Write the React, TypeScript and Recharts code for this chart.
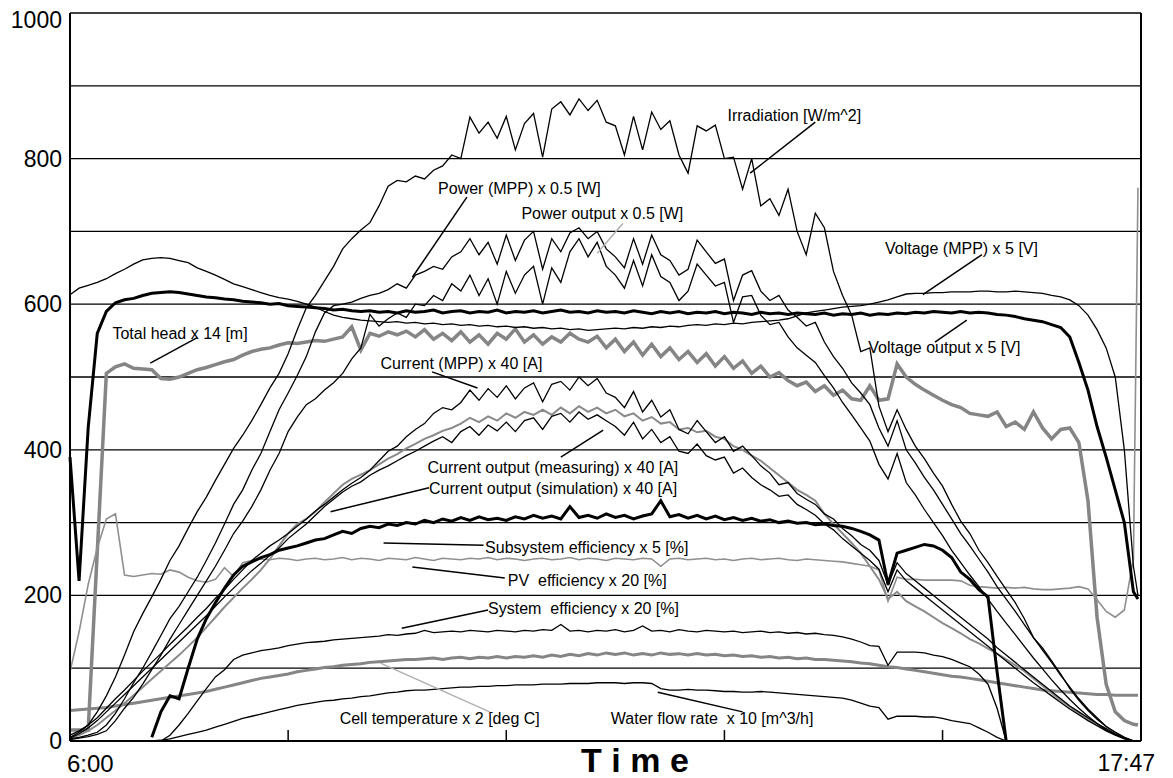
import {
  LineChart,
  Line,
  XAxis,
  YAxis,
  CartesianGrid,
  ReferenceLine,
  ReferenceDot,
} from "recharts";

const N = null;

// minutes after 6:00, one sample every 6 min (last one is the 17:45 spike)
const minutes = [
  0, 6, 12, 18, 24, 30, 36, 42, 48, 54,
  60, 66, 72, 78, 84, 90, 96, 102, 108, 114,
  120, 126, 132, 138, 144, 150, 156, 162, 168, 174,
  180, 186, 192, 198, 204, 210, 216, 222, 228, 234,
  240, 246, 252, 258, 264, 270, 276, 282, 288, 294,
  300, 306, 312, 318, 324, 330, 336, 342, 348, 354,
  360, 366, 372, 378, 384, 390, 396, 402, 408, 414,
  420, 426, 432, 438, 444, 450, 456, 462, 468, 474,
  480, 486, 492, 498, 504, 510, 516, 522, 528, 534,
  540, 546, 552, 558, 564, 570, 576, 582, 588, 594,
  600, 606, 612, 618, 624, 630, 636, 642, 648, 654,
  660, 666, 672, 678, 684, 690, 696, 702, 705,
];

const irradiation = [
  8, 14, 22, 40, 62, 88, 118, 150, 175, 198,
  222, 248, 268, 292, 315, 335, 358, 380, 402, 420,
  440, 462, 485, 505, 532, 565, 595, 612, 632, 652,
  676, 690, 702, 712, 735, 762, 770, 768, 776, 772,
  784, 790, 805, 800, 857, 835, 850, 828, 858, 812,
  848, 862, 802, 868, 878, 860, 882, 866, 880, 850,
  845, 805, 858, 812, 864, 840, 852, 805, 780, 845,
  838, 846, 800, 802, 758, 800, 735, 745, 722, 758,
  700, 668, 725, 705, 645, 612, 585, 535, 540, 460,
  425, 455, 428, 405, 388, 368, 350, 325, 302, 285,
  262, 245, 226, 208, 190, 168, 142, 128, 110, 92,
  72, 56, 42, 30, 20, 12, 5, 0, N,
];

const powerMpp = [
  3, 5, 8, 12, 22, 38, 58, 80, 100, 122,
  145, 168, 185, 205, 225, 248, 272, 298, 325, 345,
  372, 395, 425, 455, 478, 502, 528, 562, 588, 598,
  600, 603, 608, 612, 615, 620, 628, 622, 640, 645,
  652, 648, 665, 672, 690, 668, 685, 655, 695, 660,
  688, 700, 648, 690, 672, 698, 705, 690, 700, 676,
  665, 650, 690, 655, 695, 668, 660, 640, 648, 688,
  672, 656, 662, 605, 640, 646, 618, 605, 612, 592,
  582, 570, 575, 548, 528, 512, 492, 478, 462, 430,
  405, 440, 400, 382, 362, 345, 325, 305, 285, 268,
  250, 232, 212, 195, 178, 160, 142, 125, 108, 90,
  74, 58, 44, 32, 20, 12, 5, 0, N,
];

const powerOut = [
  2, 4, 6, 9, 14, 28, 45, 60, 78, 98,
  118, 140, 160, 180, 200, 220, 240, 262, 285, 302,
  322, 345, 372, 395, 425, 445, 462, 470, 482, 492,
  505, 525, 540, 586, 570, 580, 588, 582, 600, 598,
  612, 605, 628, 618, 640, 612, 635, 600, 645, 615,
  640, 652, 600, 650, 630, 672, 690, 665, 685, 652,
  640, 622, 660, 625, 668, 638, 630, 605, 618, 655,
  640, 625, 630, 575, 610, 612, 585, 572, 575, 555,
  540, 530, 520, 502, 485, 465, 448, 430, 412, 380,
  360, 395, 355, 338, 318, 300, 282, 262, 245, 228,
  212, 195, 178, 162, 146, 130, 114, 99, 84, 70,
  57, 45, 34, 24, 15, 9, 4, 0, N,
];

const currentMpp = [
  5, 12, 22, 32, 45, 58, 70, 83, 96, 108,
  120, 133, 145, 157, 170, 182, 196, 208, 222, 235,
  248, 258, 268, 276, 285, 295, 305, 316, 325, 335,
  345, 354, 362, 372, 385, 398, 405, 418, 428, 436,
  450, 458, 455, 465, 482, 468, 484, 472, 488, 470,
  485, 492, 466, 490, 494, 482, 500, 488, 498, 478,
  472, 458, 480, 452, 468, 445, 455, 428, 422, 440,
  425, 410, 418, 398, 405, 392, 378, 368, 352, 355,
  340, 332, 325, 312, 305, 292, 282, 270, 262, 248,
  215, 245, 230, 220, 210, 200, 190, 180, 170, 160,
  150, 140, 128, 118, 108, 98, 88, 78, 68, 58,
  48, 40, 32, 24, 17, 10, 4, 0, N,
];

const currentMeas = [
  4, 10, 18, 28, 40, 52, 64, 76, 88, 100,
  112, 124, 136, 148, 160, 172, 185, 198, 210, 222,
  234, 244, 255, 265, 278, 288, 298, 310, 322, 332,
  342, 350, 356, 365, 372, 378, 385, 392, 398, 405,
  412, 418, 410, 425, 432, 420, 434, 426, 438, 425,
  440, 444, 428, 446, 450, 438, 452, 442, 448, 440,
  432, 420, 438, 415, 428, 410, 418, 398, 395, 408,
  392, 386, 390, 368, 375, 362, 352, 345, 336, 338,
  325, 318, 310, 298, 290, 278, 268, 258, 248, 236,
  205, 235, 220, 210, 200, 190, 180, 170, 160, 150,
  140, 130, 120, 110, 100, 90, 80, 71, 62, 53,
  44, 36, 28, 21, 14, 8, 3, 0, N,
];

const currentSim = [
  3, 8, 14, 22, 32, 42, 52, 63, 74, 85,
  96, 107, 118, 130, 142, 156, 170, 184, 197, 210,
  222, 235, 250, 268, 285, 298, 305, 315, 328, 340,
  352, 360, 366, 372, 380, 388, 394, 402, 408, 415,
  420, 426, 430, 436, 444, 438, 446, 440, 450, 444,
  452, 448, 455, 448, 458, 450, 460, 452, 458, 450,
  455, 446, 450, 440, 445, 436, 438, 428, 430, 424,
  426, 418, 415, 405, 400, 392, 385, 375, 365, 355,
  345, 338, 330, 312, 298, 285, 272, 258, 240, 222,
  195, 205, 192, 185, 178, 170, 162, 155, 148, 140,
  134, 127, 120, 112, 104, 96, 86, 76, 66, 56,
  47, 38, 30, 22, 15, 9, 4, 0, N,
];

const subsystemEff = [
  N, N, N, N, N, N, N, N, N, 5,
  40, 62, 58, 100, 140, 168, 190, 210, 228, 240,
  246, 252, 256, 262, 265, 268, 272, 276, 278, 283,
  288, 285, 292, 295, 293, 298, 296, 300, 298, 303,
  300, 305, 302, 307, 303, 308, 304, 306, 303, 308,
  305, 310, 306, 309, 305, 322, 307, 310, 306, 312,
  307, 310, 305, 309, 312, 330, 308, 311, 306, 310,
  305, 309, 304, 307, 303, 306, 302, 304, 300, 302,
  299, 300, 297, 298, 296, 295, 292, 288, 283, 276,
  215, 258, 262, 266, 270, 268, 262, 252, 232, 222,
  208, 198, 95, 0, N, N, N, N, N, N,
  N, N, N, N, N, N, N, N, N,
];

const pvEff = [
  95, 150, 215, 265, 305, 312, 228, 226, 228, 230,
  229, 235, 232, 225, 220, 218, 222, 238, 226, 245,
  248, 250, 249, 251, 250, 248, 250, 251, 249, 250,
  252, 249, 251, 250, 248, 251, 250, 249, 252, 250,
  248, 251, 250, 249, 251, 250, 252, 249, 251, 250,
  248, 250, 251, 249, 250, 252, 249, 251, 250, 248,
  251, 250, 249, 251, 250, 240, 250, 251, 249, 250,
  251, 249, 250, 248, 250, 251, 249, 250, 251, 249,
  248, 250, 249, 248, 247, 246, 244, 242, 240, 235,
  192, 225, 222, 222, 221, 221, 221, 221, 220, 214,
  212, 211, 210, 211, 210, 211, 209, 208, 208, 209,
  210, 212, 209, 194, 178, 170, 180, 250, 760,
];

const systemEff = [
  N, N, N, N, N, N, N, N, N, N,
  0, 8, 22, 38, 55, 72, 88, 98, 112, 118,
  121, 124, 126, 128, 131, 133, 135, 136, 137, 139,
  140, 141, 142, 143, 144, 146, 145, 147, 148, 152,
  149, 150, 151, 150, 152, 151, 150, 152, 151, 150,
  152, 151, 153, 152, 160, 151, 152, 150, 152, 151,
  153, 150, 152, 158, 151, 152, 150, 153, 151, 150,
  152, 151, 150, 151, 149, 150, 151, 149, 150, 148,
  149, 147, 148, 146, 145, 143, 140, 136, 131, 130,
  104, 122, 122, 122, 121, 118, 116, 112, 107, 102,
  92, 78, 45, 0, N, N, N, N, N, N,
  N, N, N, N, N, N, N, N, N,
];

const waterFlow = [
  N, N, N, N, N, N, N, N, N, 0,
  1, 3, 6, 9, 12, 15, 19, 23, 27, 31,
  34, 37, 40, 43, 46, 49, 51, 53, 55, 56,
  58, 59, 61, 62, 64, 66, 67, 69, 70, 70,
  71, 72, 73, 74, 74, 75, 75, 76, 76, 77,
  77, 77, 78, 78, 78, 79, 79, 79, 80, 80,
  80, 79, 80, 80, 79, 72, 70, 70, 71, 70,
  70, 69, 68, 68, 67, 67, 68, 67, 66, 65,
  64, 63, 62, 61, 60, 59, 56, 52, 48, 46,
  30, 34, 34, 34, 33, 33, 31, 28, 26, 24,
  18, 12, 5, 0, N, N, N, N, N, N,
  N, N, N, N, N, N, N, N, N,
];

const cellTemp = [
  42, 43, 44, 45, 46, 48, 50, 52, 54, 56,
  58, 60, 62, 64, 66, 68, 71, 74, 77, 80,
  83, 86, 88, 90, 92, 95, 97, 99, 101, 102,
  104, 105, 106, 108, 109, 110, 111, 112, 112, 113,
  114, 112, 114, 115, 113, 115, 114, 116, 114, 116,
  115, 117, 115, 118, 116, 119, 117, 120, 118, 121,
  119, 121, 118, 120, 118, 121, 119, 120, 118, 120,
  118, 119, 117, 118, 116, 117, 115, 116, 114, 115,
  113, 114, 112, 112, 111, 110, 109, 107, 106, 104,
  102, 101, 99, 97, 95, 93, 91, 89, 88, 86,
  84, 82, 80, 78, 76, 74, 72, 70, 69, 68,
  67, 66, 65, 64, 64, 63, 63, 63, 63,
];

const totalHead = [
  15, 15, 15, 260, 505, 514, 518, 512, 511, 510,
  498, 497, 500, 505, 510, 513, 517, 521, 524, 530,
  535, 538, 540, 544, 547, 546, 548, 550, 549, 552,
  555, 569, 537, 560, 556, 562, 558, 563, 555, 565,
  552, 560, 550, 562, 548, 558, 545, 560, 552, 566,
  548, 558, 545, 555, 548, 560, 552, 548, 556, 540,
  552, 535, 548, 530, 545, 528, 540, 524, 535, 520,
  532, 515, 528, 512, 522, 505, 515, 500, 506, 495,
  488, 493, 480, 488, 475, 482, 470, 468, 488, 468,
  470, 518, 500, 490, 482, 475, 468, 462, 458, 450,
  448, 446, 452, 432, 438, 428, 452, 430, 415, 428,
  430, 410, 330, 170, 78, 40, 28, 23, 22,
];

const voltageOut = [
  390, 220, 430, 560, 590, 602, 606, 608, 612, 615,
  616, 617, 616, 614, 612, 610, 609, 607, 606, 604,
  603, 602, 600, 601, 598, 597, 596, 595, 594, 592,
  593, 591, 590, 591, 589, 590, 588, 591, 589, 590,
  592, 588, 590, 591, 588, 590, 589, 592, 588, 590,
  589, 591, 588, 590, 592, 589, 590, 588, 591, 589,
  590, 588, 591, 589, 587, 590, 588, 590, 587, 589,
  588, 590, 587, 589, 588, 586, 589, 587, 588, 586,
  588, 587, 586, 588, 585, 587, 586, 588, 585, 587,
  586, 588, 587, 589, 588, 590, 589, 588, 590, 588,
  589, 588, 586, 585, 583, 580, 578, 576, 572, 568,
  555, 520, 482, 432, 390, 345, 300, 205, 195,
];

const voltageMpp = [
  613, 622, 626, 630, 635, 642, 648, 655, 661, 663,
  664, 663, 660, 657, 650, 645, 640, 634, 628, 624,
  620, 616, 612, 609, 607, 604, 600, 596, 590, 585,
  582, 580, 578, 577, 576, 575, 576, 574, 575, 573,
  574, 572, 573, 571, 572, 570, 571, 569, 570, 568,
  569, 567, 568, 566, 567, 565, 566, 564, 565, 566,
  567, 566, 568, 567, 569, 568, 570, 569, 571, 572,
  571, 573, 572, 574, 573, 575, 576, 577, 578, 580,
  584, 588, 590, 592, 594, 596, 597, 598, 600, 603,
  606, 610, 614, 615, 615, 616, 616, 617, 617, 617,
  618, 618, 617, 617, 618, 617, 616, 615, 612, 610,
  606, 598, 585, 565, 540, 500, 400, 240, 200,
];

const yTicks = [0, 100, 200, 300, 400, 500, 600, 700, 800, 900, 1000];
const xEnds = [0, 707];
const xEndLabels = ["6:00", "17:47"];
const xMarks = [144, 288, 432, 576];

const rows = minutes.map((t, i) => ({
  t,
  irr: irradiation[i],
  pMpp: powerMpp[i],
  pOut: powerOut[i],
  iMpp: currentMpp[i],
  iMeas: currentMeas[i],
  iSim: currentSim[i],
  subsys: subsystemEff[i],
  pv: pvEff[i],
  sys: systemEff[i],
  flow: waterFlow[i],
  cell: cellTemp[i],
  head: totalHead[i],
  vOut: voltageOut[i],
  vMpp: voltageMpp[i],
}));

// drawing order: grey first, thick black last
const series = [
  { key: "head", color: "#858585", width: 3.5 },
  { key: "cell", color: "#858585", width: 3 },
  { key: "pv", color: "#8f8f8f", width: 1.6 },
  { key: "iSim", color: "#8a8a8a", width: 2 },
  { key: "irr", color: "#000", width: 1.3 },
  { key: "pMpp", color: "#000", width: 1.3 },
  { key: "pOut", color: "#000", width: 1.3 },
  { key: "iMpp", color: "#000", width: 1.3 },
  { key: "iMeas", color: "#000", width: 1.3 },
  { key: "sys", color: "#000", width: 1.3 },
  { key: "flow", color: "#000", width: 1.3 },
  { key: "vMpp", color: "#000", width: 1.3 },
  { key: "vOut", color: "#000", width: 3 },
  { key: "subsys", color: "#000", width: 3 },
];

// label text (left end of baseline) and leader line, in chart units
const notes = [
  { text: "Irradiation [W/m^2]", at: [434, 852], from: [492, 850], to: [449, 780], c: "#000" },
  { text: "Power (MPP) x 0.5 [W]", at: [243, 751], from: [262, 747], to: [226, 637], c: "#000" },
  { text: "Power output x 0.5 [W]", at: [298, 717], from: [365, 711], to: [348, 670], c: "#b0b0b0" },
  { text: "Voltage (MPP) x 5 [V]", at: [538, 669], from: [602, 668], to: [563, 613], c: "#000" },
  { text: "Voltage output x 5 [V]", at: [527, 533], from: [571, 548], to: [592, 578], c: "#000" },
  { text: "Total head x 14 [m]", at: [28, 552], from: [84, 554], to: [53, 519], c: "#000" },
  { text: "Current (MPP) x 40 [A]", at: [205, 511], from: [239, 507], to: [269, 485], c: "#000" },
  { text: "Current output (measuring) x 40 [A]", at: [236, 368], from: [324, 390], to: [352, 427], c: "#000" },
  { text: "Current output (simulation) x 40 [A]", at: [237, 339], from: [237, 348], to: [172, 315], c: "#000" },
  { text: "Subsystem efficiency x 5 [%]", at: [274, 258], from: [273, 269], to: [207, 272], c: "#000" },
  { text: "PV  efficiency x 20 [%]", at: [289, 213], from: [287, 224], to: [226, 239], c: "#000" },
  { text: "System  efficiency x 20 [%]", at: [276, 175], from: [276, 180], to: [219, 155], c: "#000" },
  { text: "Cell temperature x 2 [deg C]", at: [178, 23], from: [205, 107], to: [277, 40], c: "#b0b0b0" },
  { text: "Water flow rate  x 10 [m^3/h]", at: [357, 23], from: [444, 40], to: [388, 67], c: "#000" },
];

const FONT = "'Liberation Sans', Arial, sans-serif";

function NoteText(props: any) {
  const { viewBox, text } = props;
  return (
    <text
      x={viewBox.x}
      y={viewBox.y}
      fontSize={16}
      fontFamily={FONT}
      fill="#000"
      style={{ whiteSpace: "pre" }}
    >
      {text}
    </text>
  );
}

function YTick(props: any) {
  const { x, y, payload } = props;
  if (payload.value % 200 !== 0) return null;
  const shift = payload.value === 1000 ? 7 : 0;
  return (
    <text x={x} y={y + shift} dy={8} textAnchor="end" fontSize={23} fontFamily={FONT} fill="#000">
      {payload.value}
    </text>
  );
}

function XTick(props: any) {
  const { x, y, payload, index } = props;
  const first = index === 0;
  return (
    <text
      x={first ? x - 3 : x + 14}
      y={first ? y + 23 : y + 22}
      textAnchor={first ? "start" : "end"}
      fontSize={first ? 24 : 23}
      fontFamily={FONT}
      fill="#000"
    >
      {xEndLabels[xEnds.indexOf(payload.value)]}
    </text>
  );
}

function TimeLabel(props: any) {
  const vb = props.viewBox;
  return (
    <text
      x={vb.x + vb.width * 0.5275}
      y={vb.y + 31}
      textAnchor="middle"
      fontSize={34}
      fontWeight="bold"
      fontFamily={FONT}
      fill="#000"
      style={{ whiteSpace: "pre" }}
    >
      T i m e
    </text>
  );
}

export default function App() {
  return (
    <div style={{ width: 1157, height: 770, background: "#fff", fontFamily: FONT }}>
      <LineChart
        width={1157}
        height={770}
        data={rows}
        margin={{ top: 5, right: 24, bottom: 0, left: 0 }}
      >
        <CartesianGrid vertical={false} stroke="#000" strokeWidth={1.3} />
        <XAxis
          dataKey="t"
          type="number"
          domain={[0, 707]}
          ticks={xEnds}
          tick={<XTick />}
          tickLine={false}
          axisLine={{ stroke: "#000", strokeWidth: 2 }}
          height={37}
          label={<TimeLabel />}
        />
        <YAxis
          domain={[0, 1000]}
          ticks={yTicks}
          tick={<YTick />}
          tickLine={false}
          axisLine={{ stroke: "#000", strokeWidth: 2 }}
          width={62}
          interval={0}
        />
        <ReferenceLine x={707} stroke="#000" strokeWidth={2} />
        {xMarks.map((m) => (
          <ReferenceLine
            key={m}
            segment={[
              { x: m, y: 0 },
              { x: m, y: 15 },
            ]}
            stroke="#000"
            strokeWidth={1.5}
          />
        ))}
        {series.map((s) => (
          <Line
            key={s.key}
            type="linear"
            dataKey={s.key}
            stroke={s.color}
            strokeWidth={s.width}
            dot={false}
            activeDot={false}
            connectNulls={false}
            isAnimationActive={false}
          />
        ))}
        {notes.map((n) => (
          <ReferenceLine
            key={"l" + n.text}
            segment={[
              { x: n.from[0], y: n.from[1] },
              { x: n.to[0], y: n.to[1] },
            ]}
            stroke={n.c}
            strokeWidth={1.5}
          />
        ))}
        {notes.map((n) => (
          <ReferenceDot
            key={"t" + n.text}
            x={n.at[0]}
            y={n.at[1]}
            r={0}
            fill="none"
            stroke="none"
            label={<NoteText text={n.text} />}
          />
        ))}
      </LineChart>
    </div>
  );
}
